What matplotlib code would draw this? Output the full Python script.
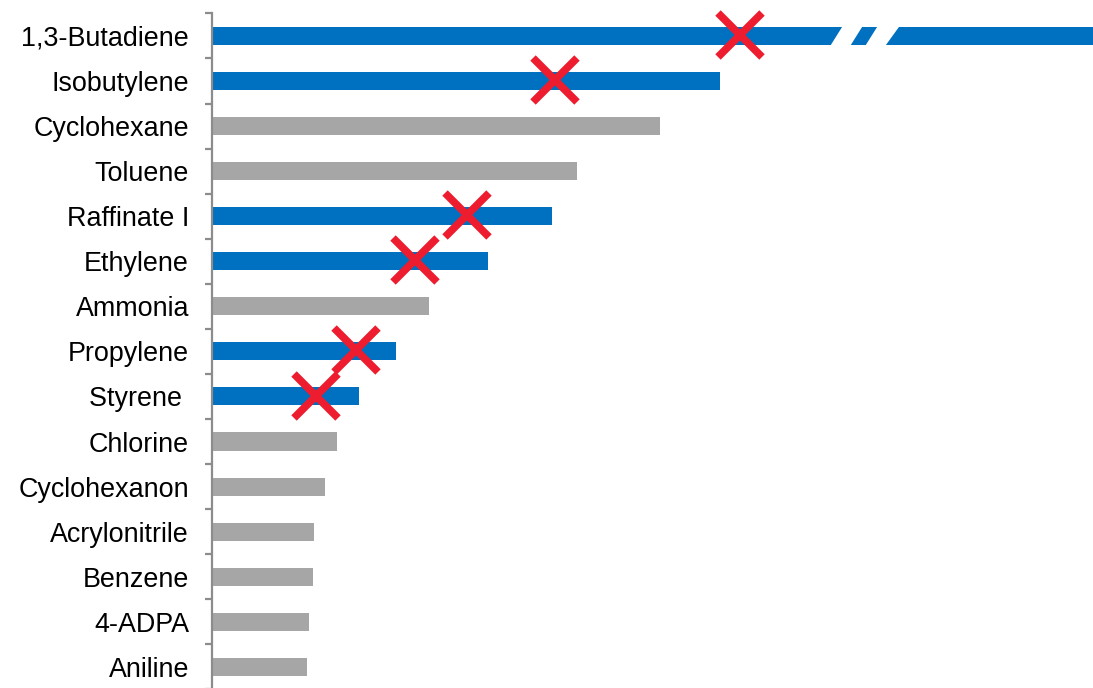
import matplotlib
matplotlib.use("Agg")
import matplotlib.pyplot as plt
from matplotlib.patches import Polygon

categories = ["1,3-Butadiene", "Isobutylene", "Cyclohexane", "Toluene", "Raffinate I",
              "Ethylene", "Ammonia", "Propylene", "Styrene ", "Chlorine",
              "Cyclohexanon", "Acrylonitrile", "Benzene", "4-ADPA", "Aniline"]
values = [150.0, 50.8, 44.8, 36.5, 34.0, 27.6, 21.7, 18.4, 14.7, 12.5, 11.3, 10.2, 10.1, 9.7, 9.5]
highlight = [True, True, False, False, True, True, False, True, True, False, False, False, False, False, False]
marker_x = [52.8, 34.3, None, None, 25.5, 20.3, None, 14.4, 10.4, None, None, None, None, None, None]

BLUE = "#0070C0"
GRAY = "#A6A6A6"
RED = "#ED1C2E"
AXIS = "#8C8C8C"

plt.rcParams['font.family'] = ['Liberation Sans', 'DejaVu Sans']

fig = plt.figure(figsize=(10.93, 6.88), dpi=100)
ax = fig.add_axes([212 / 1093, -0.002, 881 / 1093, 676 / 688])

ypos = list(range(len(categories)))
colors = [BLUE if h else GRAY for h in highlight]
ax.barh(ypos, values, height=0.4, color=colors, zorder=2)

# break marks on the first (truncated) bar
for bx0, bx1, tx0, tx1 in [(61.8, 63.8, 63.1, 65.1), (65.3, 67.3, 66.6, 68.8)]:
    poly = Polygon([(bx0, 0.23), (bx1, 0.23), (tx1, -0.23), (tx0, -0.23)],
                   closed=True, facecolor="white", edgecolor="none", zorder=3)
    ax.add_patch(poly)

for y, mx in zip(ypos, marker_x):
    if mx is not None:
        ax.plot([mx], [y - 0.02], marker="x", markersize=31, markeredgewidth=5.5,
                color=RED, zorder=4, clip_on=False, linestyle="none")

ax.set_xlim(0, 88.1)
ax.set_ylim(len(categories) - 0.5, -0.5)

for s in ["top", "right", "bottom"]:
    ax.spines[s].set_visible(False)
ax.spines["left"].set_color(AXIS)
ax.spines["left"].set_linewidth(1.6)

ax.set_xticks([])
ax.set_yticks(ypos)
ax.set_yticklabels(categories, fontsize=19.4)
ax.tick_params(axis="y", which="major", length=0, pad=16.5)
ax.set_yticks([i - 0.5 for i in range(len(categories) + 1)], minor=True)
ax.tick_params(axis="y", which="minor", length=5, width=1.6, color=AXIS)

fig.savefig("out.png", dpi=100)
